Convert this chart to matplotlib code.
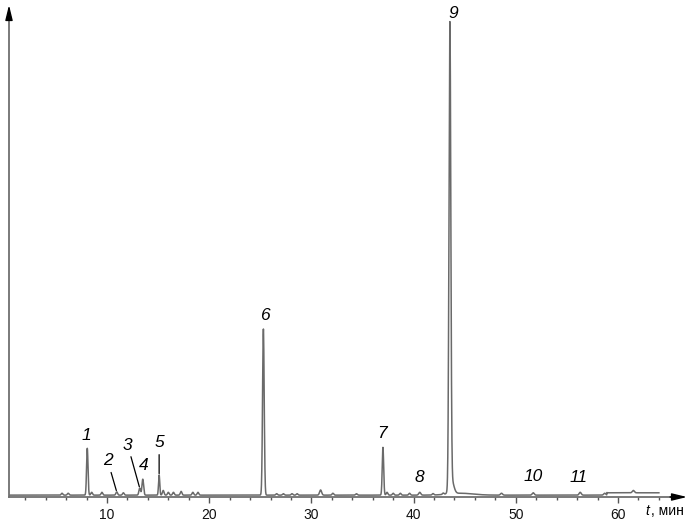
import numpy as np
import matplotlib.pyplot as plt

plt.rcParams['font.family'] = ['Liberation Sans', 'DejaVu Sans']

# peak table: retention time (min), relative height, sigma (min)
peak_t = [5.6, 6.2, 8.07, 8.5, 9.5, 10.95, 11.6, 13.2, 13.5, 15.1, 15.5, 16.0, 16.5,
          17.25, 18.4, 18.9, 25.3, 26.6, 27.25, 28.1, 28.6, 30.9, 32.1, 34.4, 37.0,
          37.4, 38.0, 38.7, 39.6, 40.6, 41.9, 42.9, 43.55, 43.7, 44.6, 48.6, 51.7,
          56.3, 58.7, 61.5]
peak_h = [0.004, 0.004, 0.100, 0.006, 0.006, 0.007, 0.005, 0.015, 0.034, 0.043, 0.010,
          0.006, 0.006, 0.008, 0.006, 0.006, 0.355, 0.003, 0.003, 0.003, 0.003, 0.011,
          0.004, 0.003, 0.102, 0.006, 0.004, 0.004, 0.004, 0.006, 0.003, 0.003, 0.985,
          0.030, 0.004, 0.004, 0.005, 0.006, 0.004, 0.005]
peak_w = [0.08, 0.08, 0.07, 0.08, 0.08, 0.08, 0.08, 0.08, 0.08, 0.06, 0.08, 0.08, 0.08,
          0.08, 0.08, 0.08, 0.08, 0.08, 0.08, 0.08, 0.08, 0.10, 0.08, 0.08, 0.07,
          0.08, 0.08, 0.08, 0.08, 0.10, 0.08, 0.08, 0.09, 0.22, 1.20, 0.10, 0.10,
          0.10, 0.10, 0.10]
shift_start = 58.9   # baseline lifts a little near the end of the run
shift_level = 0.005
run_end = 64.0

# numbered peaks: label, time, height, label offset in pixels, leader line
labels = ['1', '2', '3', '4', '5', '6', '7', '8', '9', '10', '11']
label_t = [8.07, 10.95, 13.2, 13.5, 15.1, 25.3, 37.0, 40.6, 43.55, 51.7, 56.3]
label_h = [0.100, 0.007, 0.015, 0.034, 0.043, 0.355, 0.102, 0.006, 1.0, 0.005, 0.006]
label_off = [(-1, 13), (-9, 31), (-12, 43), (1, 14), (0, 32), (1, 13), (-1, 14),
             (0, 15), (3, 14), (0, 16), (-2, 15)]
label_line = [False, True, True, False, True, False, False, False, False, False, False]

t = np.linspace(0.4, run_end, 8000)
y = np.zeros_like(t)
for c, h, w in zip(peak_t, peak_h, peak_w):
    y += h * np.exp(-0.5 * ((t - c) / w) ** 2)
y += np.where(t > shift_start, shift_level, 0.0)

fig = plt.figure(figsize=(6.94, 5.24), dpi=100)
ax = fig.add_axes([9 / 694, 27 / 524, 678 / 694, 492 / 524])
ax.plot(t, y, color='#6a6a6a', lw=1.1)

ax.set_xlim(0.41, 66.75)
ax.set_ylim(-0.004, 1.047)
for s in ax.spines.values():
    s.set_visible(False)

# axis arrows
ax.plot([0, 0.985], [0, 0], color='#707070', lw=1.3, transform=ax.transAxes, clip_on=False)
ax.plot([0, 0], [0, 0.975], color='#707070', lw=1.3, transform=ax.transAxes, clip_on=False)
ax.annotate('', xy=(1, 0), xytext=(0.975, 0), xycoords='axes fraction',
            arrowprops=dict(arrowstyle='-|>,head_length=0.9,head_width=0.22',
                            color='black', lw=1, shrinkA=0, shrinkB=0))
ax.annotate('', xy=(0, 1), xytext=(0, 0.97), xycoords='axes fraction',
            arrowprops=dict(arrowstyle='-|>,head_length=0.9,head_width=0.22',
                            color='black', lw=1, shrinkA=0, shrinkB=0))

ax.set_xticks(np.arange(10, 61, 10))
ax.set_xticks(np.arange(2, 65, 2), minor=True)
ax.set_yticks([])
ax.tick_params(axis='x', which='major', length=4, width=1, color='#555555',
               labelsize=10, pad=4, labelcolor='#111111')
ax.tick_params(axis='x', which='minor', length=2, width=1, color='#555555')

fig.text(645 / 694, 1 - 511 / 524, 't', fontsize=10, fontstyle='italic', va='center', ha='left')
fig.text(651 / 694, 1 - 511 / 524, ', мин', fontsize=10, va='center', ha='left')

for lab, lt, lh, off, line in zip(labels, label_t, label_h, label_off, label_line):
    props = None
    if line:
        props = dict(arrowstyle='-', color='black', lw=0.9, shrinkA=1, shrinkB=1)
    ax.annotate(lab, xy=(lt, lh), xytext=off, textcoords='offset pixels',
                ha='center', va='center', fontsize=12.5, fontstyle='italic',
                arrowprops=props)

fig.savefig('out.png', dpi=100)
